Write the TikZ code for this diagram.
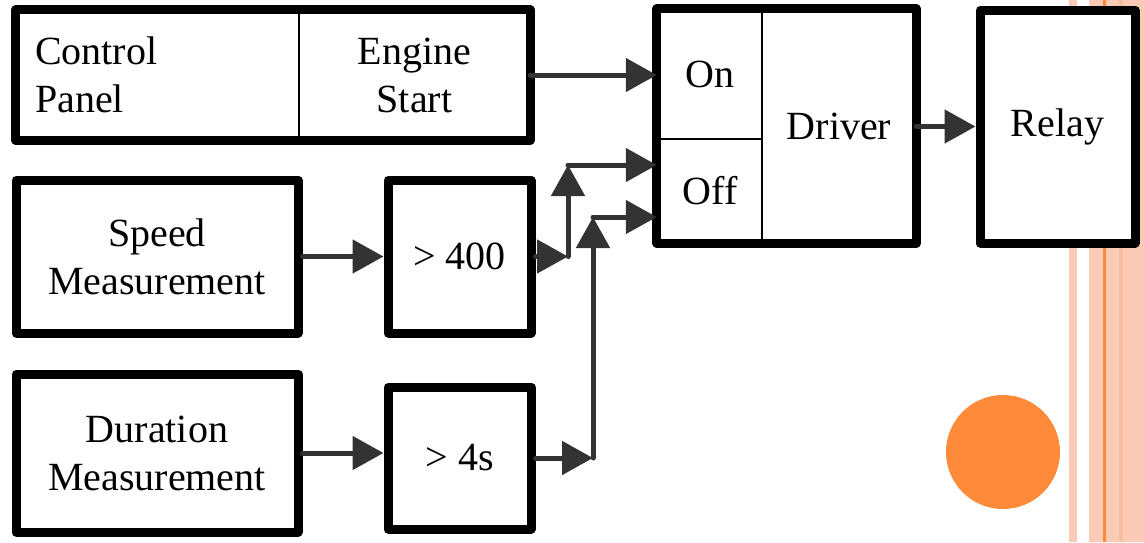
\documentclass[tikz,border=0pt]{standalone}
\usepackage{fontspec}
\setmainfont{Liberation Serif}
\usetikzlibrary{arrows.meta,calc}
\definecolor{arrowgray}{HTML}{333333}
\definecolor{stripepale}{RGB}{252,203,182}
\definecolor{stripedark}{RGB}{249,189,162}
\definecolor{orangeline}{RGB}{250,138,60}
\definecolor{circleorange}{RGB}{255,139,58}
\tikzset{
  lbl/.style={inner sep=0pt, font=\fontsize{40}{48}\selectfont, align=center},
  box/.style={lbl, draw=black, line width=9pt, line join=round, fill=white},
  cell/.style={lbl, draw=black, line width=2.5pt},
  frame/.style={draw=black, line width=9pt, line join=round},
  conn/.style={draw=arrowgray, line width=5pt, line cap=round, -{Triangle[length=31pt,width=33pt]}}
}
\begin{document}
\begin{tikzpicture}[x=1pt,y=-1pt]
\useasboundingbox (0,0) rectangle (1144,542);
\fill[white] (0,0) rectangle (1144,542);
% decorative stripes at right edge
\fill[stripepale] (1069,0) rectangle (1077,542);
\fill[stripepale] (1089,0) rectangle (1144,542);
\fill[stripedark] (1119,0) rectangle (1123,542);
\fill[orangeline] (1103,0) rectangle (1106,542);
% orange circle
\fill[circleorange] (1003,452) circle (57pt);

% Control panel / Engine start
\node[lbl, fill=white, minimum width=283pt, minimum height=130pt, text width=245pt, align=left] (cp) at (157.5,75) {Control\\Panel};
\node[lbl, fill=white, minimum width=231pt, minimum height=130pt] (es) at (414.5,75) {Engine\\Start};
\draw[line width=2.5pt] (cp.north east) -- (cp.south east);
\draw[frame] (cp.north west) rectangle (es.south east);

% Measurement boxes
\node[box, minimum width=282pt, minimum height=153pt] (speed) at (157,256.5) {Speed\\Measurement};
\node[box, minimum width=143pt, minimum height=153pt] (g400) at (459.5,256.5) {> 400};
\node[box, minimum width=282pt, minimum height=158pt] (dur) at (157,453) {Duration\\Measurement};
\node[box, minimum width=143pt, minimum height=142pt] (g4) at (459.5,458) {> 4s};

% Driver block
\node[lbl, fill=white, minimum width=154pt, minimum height=233pt] (drv) at (839,126.5) {Driver};
\node[cell, fill=white, minimum width=104pt, minimum height=129pt] (on) at (710,74.5) {On};
\node[cell, fill=white, minimum width=104pt, minimum height=104pt] (off) at (710,191) {Off};
\draw[frame] (on.north west) rectangle (drv.south east);

% Relay
\node[box, minimum width=155pt, minimum height=233pt] (relay) at (1057.5,126.5) {Relay};

% junction points
\coordinate (j1) at (568,256.5);
\coordinate (j1top) at (568,165);
\coordinate (j2) at (593,458);
\coordinate (j2top) at (593,217);

% connectors
\draw[conn] (es.east) -- (es.east -| on.west);
\draw[conn] (speed.east) -- (g400.west);
\draw[conn] (g400.east) -- (j1);
\draw[conn] (j1) -- (j1top);
\draw[conn] (j1top) -- (j1top -| off.west);
\draw[conn] (dur.east) -- (dur.east -| g4.west);
\draw[conn] (g4.east) -- (j2);
\draw[conn] (j2) -- (j2top);
\draw[conn] (j2top) -- (j2top -| off.west);
\draw[conn] (drv.east) -- (relay.west);
\end{tikzpicture}
\end{document}
